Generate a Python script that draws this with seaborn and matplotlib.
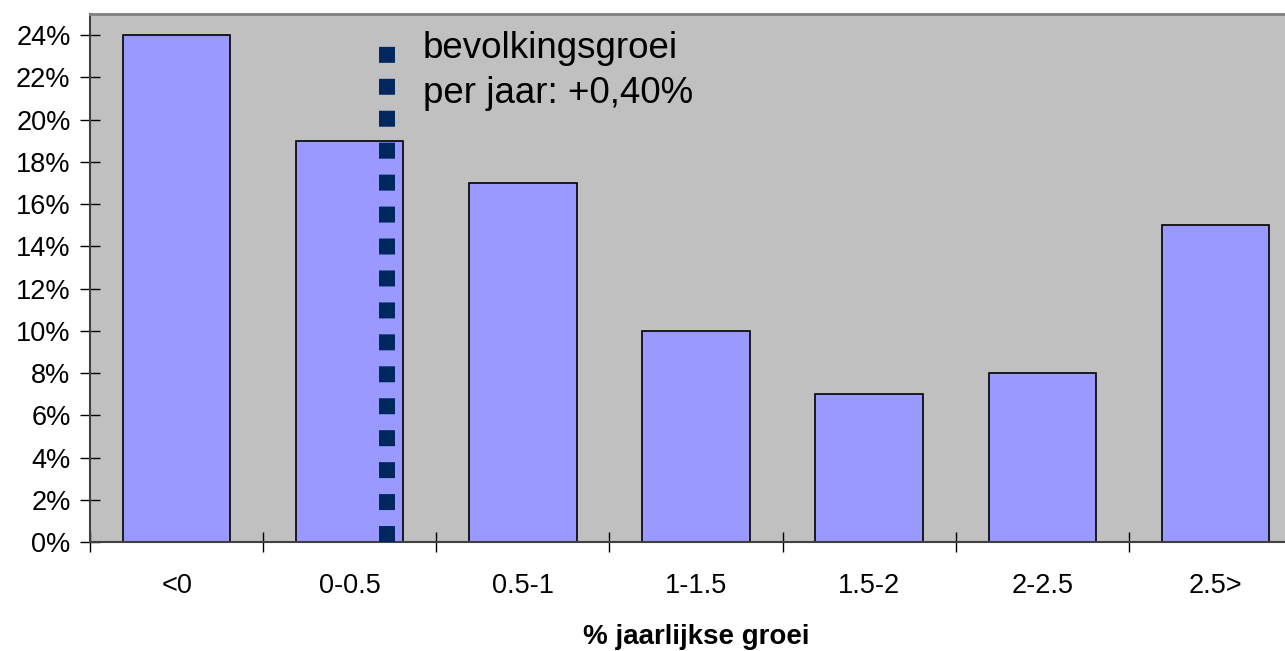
import matplotlib
matplotlib.use("Agg")
import matplotlib.pyplot as plt
import seaborn as sns
import pandas as pd
from matplotlib.ticker import FuncFormatter, FixedLocator

categories = ["<0", "0-0.5", "0.5-1", "1-1.5", "1.5-2", "2-2.5", "2.5>"]
shares = [24, 19, 17, 10, 7, 8, 15]
marker_x = 1.215
marker_top = 23.5
annotation_lines = ["bevolkingsgroei", "per jaar: +0,40%"]
x_title = "% jaarlijkse groei"

df = pd.DataFrame({"cat": categories, "share": shares})

plt.rcParams['font.family'] = ['Liberation Sans', 'DejaVu Sans']

fig = plt.figure(figsize=(12.85, 6.51), dpi=100)
ax = fig.add_axes([90/1285, 1-542/651, (1302-90)/1285, (542-14)/651])
ax.set_facecolor('#C0C0C0')

sns.barplot(data=df, x="cat", y="share", color="#9999FF", saturation=1,
            edgecolor="black", linewidth=1.2, width=0.62, ax=ax, zorder=2)

ax.plot([marker_x, marker_x], [0, marker_top], color='#00285E',
        linewidth=11.5, linestyle=(0, (1, 1)), solid_capstyle='butt',
        dash_capstyle='butt', zorder=3)

ax.text(1.423, 22.91, annotation_lines[0], fontsize=26.5, va='baseline', ha='left', zorder=4)
ax.text(1.423, 20.78, annotation_lines[1], fontsize=26.5, va='baseline', ha='left', zorder=4)

ax.set_xlim(-0.5, 6.5)
ax.set_ylim(0, 25)
ax.yaxis.set_major_locator(FixedLocator(list(range(0, 25, 2))))
ax.yaxis.set_major_formatter(FuncFormatter(lambda v, p: f"{int(v)}%"))
ax.xaxis.set_minor_locator(FixedLocator([i - 0.5 for i in range(8)]))

ax.tick_params(axis='y', which='major', direction='inout', length=14, width=1,
               labelsize=19.5, pad=7, color='black')
ax.tick_params(axis='x', which='major', length=0, labelsize=19.5, pad=22)
ax.tick_params(axis='x', which='minor', direction='inout', length=14, width=1, color='black')

ax.set_xlabel(x_title, fontsize=20, fontweight='bold', labelpad=18)
ax.set_ylabel("")

ax.spines['top'].set_color('#808080')
ax.spines['top'].set_linewidth(2)
ax.spines['right'].set_visible(False)
ax.spines['left'].set_color('#404040')
ax.spines['left'].set_linewidth(1.5)
ax.spines['bottom'].set_color('#404040')
ax.spines['bottom'].set_linewidth(1.5)

fig.savefig("out.png", dpi=100)
